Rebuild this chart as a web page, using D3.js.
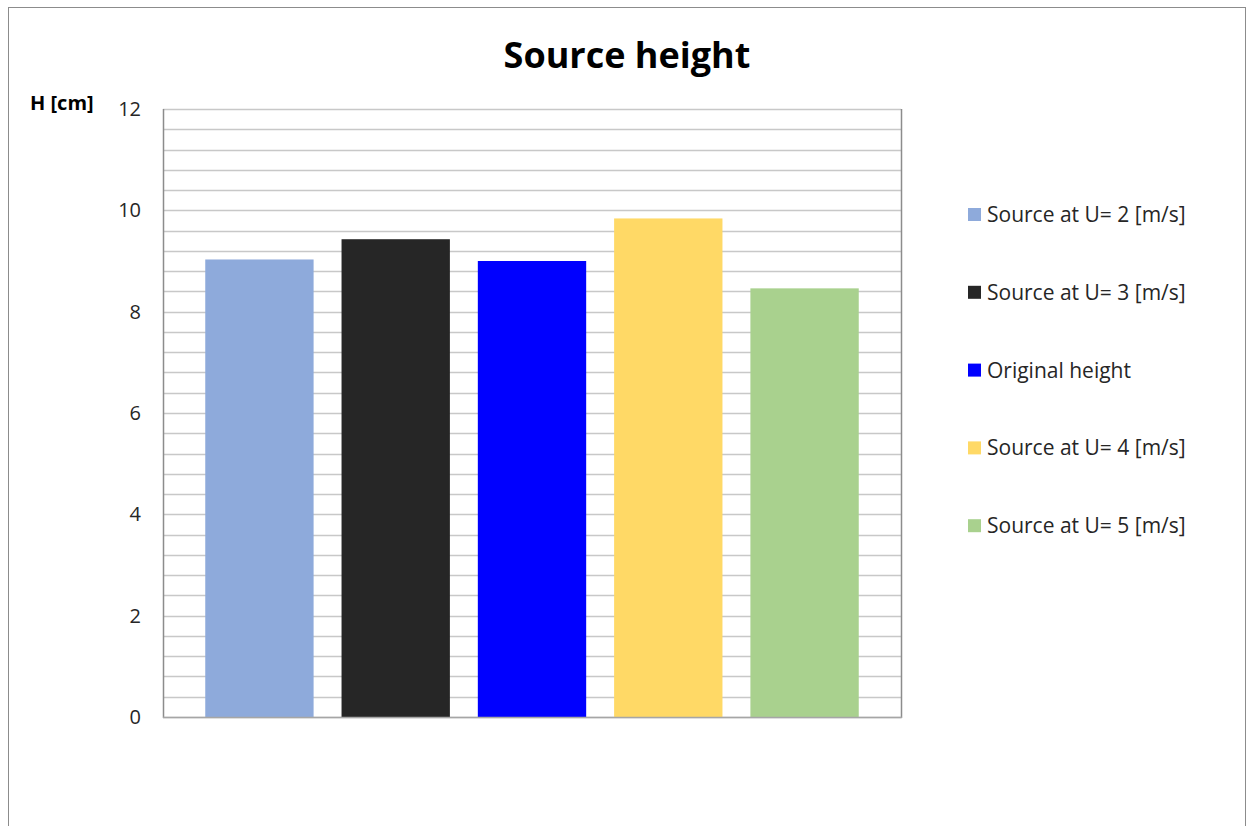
<!DOCTYPE html>
<html>
<head>
<meta charset="utf-8">
<script src="https://cdn.jsdelivr.net/npm/d3@7"></script>
<style>
  body { margin: 0; background: #fff; }
  text { font-family: "Open Sans", "Liberation Sans", sans-serif; fill: #262626; }
</style>
</head>
<body>
<div id="chart"></div>
<script>
const series = ["Source at U= 2 [m/s]", "Source at U= 3 [m/s]", "Original height", "Source at U= 4 [m/s]", "Source at U= 5 [m/s]"];
const heights = [9.03, 9.43, 9.0, 9.84, 8.46];
const colors = ["#8eaadb", "#262626", "#0000ff", "#ffd966", "#a9d18e"];
const yTicks = [0, 2, 4, 6, 8, 10, 12];
const minorTicks = d3.range(0, 12.01, 0.4);

const W = 1247, H = 826;
const plot = {left: 163, right: 901, top: 109, bottom: 717};

const svg = d3.select("#chart").append("svg")
  .attr("width", W)
  .attr("height", H);

// outer chart frame
svg.append("rect")
  .attr("x", 8.5).attr("y", 7.5)
  .attr("width", 1237).attr("height", 830)
  .attr("fill", "#fff")
  .attr("stroke", "#8c8c8c");

var y = d3.scaleLinear()
  .domain([0, 12])
  .range([plot.bottom, plot.top]);

var x = d3.scaleBand()
  .domain(series)
  .range([plot.left, plot.right])
  .paddingInner(0.205)
  .paddingOuter(0.31);

// gridlines
svg.append("g").selectAll("line")
  .data(minorTicks)
  .enter().append("line")
    .attr("x1", plot.left).attr("x2", plot.right)
    .attr("y1", d => Math.round(y(d)) + 0.5)
    .attr("y2", d => Math.round(y(d)) + 0.5)
    .attr("stroke", "#c8c8c8")
    .attr("stroke-width", 1.5);

// bars
svg.append("g").selectAll("rect")
  .data(series)
  .enter().append("rect")
    .attr("x", d => x(d))
    .attr("y", (d, i) => y(heights[i]))
    .attr("width", x.bandwidth())
    .attr("height", (d, i) => y(0) - y(heights[i]))
    .attr("fill", (d, i) => colors[i]);

// plot area border: left axis, bottom axis, right edge
svg.append("line")
  .attr("x1", plot.left + 0.5).attr("x2", plot.left + 0.5)
  .attr("y1", plot.top).attr("y2", plot.bottom + 1)
  .attr("stroke", "#8c8c8c").attr("stroke-width", 1.5);
svg.append("line")
  .attr("x1", plot.right + 0.5).attr("x2", plot.right + 0.5)
  .attr("y1", plot.top).attr("y2", plot.bottom + 1)
  .attr("stroke", "#8c8c8c").attr("stroke-width", 1.5);
svg.append("line")
  .attr("x1", plot.left).attr("x2", plot.right + 1)
  .attr("y1", plot.bottom + 0.5).attr("y2", plot.bottom + 0.5)
  .attr("stroke", "#a6a6a6").attr("stroke-width", 1.5);

// y axis labels
var yAxis = d3.axisLeft(y)
  .tickValues(yTicks)
  .tickSize(0)
  .tickPadding(22);

var ax = svg.append("g")
  .attr("transform", "translate(" + plot.left + ",0)")
  .call(yAxis);
ax.select(".domain").remove();
ax.selectAll("text")
  .style("font-family", "'Open Sans', sans-serif")
  .style("font-size", "20px")
  .style("fill", "#262626");

// axis title
svg.append("text")
  .attr("x", 30).attr("y", 110)
  .style("font-size", "20px")
  .style("font-weight", "bold")
  .style("fill", "#000")
  .text("H [cm]");

// title
svg.append("text")
  .attr("x", 627).attr("y", 68)
  .attr("text-anchor", "middle")
  .style("font-size", "36px")
  .style("font-weight", "bold")
  .style("fill", "#000")
  .text("Source height");

// legend
var legend = svg.append("g").selectAll("g")
  .data(series)
  .enter().append("g")
    .attr("transform", (d, i) => "translate(968," + (208 + i * 77.8) + ")");

legend.append("rect")
  .attr("width", 13).attr("height", 13)
  .attr("fill", (d, i) => colors[i]);

legend.append("text")
  .attr("x", 19).attr("y", 14)
  .style("font-size", "21px")
  .text(d => d);
</script>
</body>
</html>
